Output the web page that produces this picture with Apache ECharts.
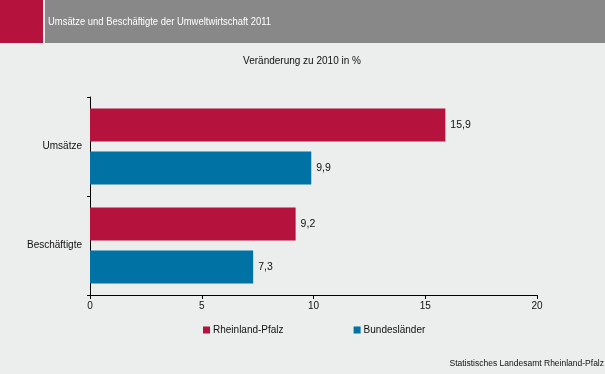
<!DOCTYPE html>
<html><head><meta charset="utf-8">
<script src="https://cdn.jsdelivr.net/npm/echarts@6/dist/echarts.min.js"></script>
<style>html,body{margin:0;padding:0;background:#ECEDED;}#c{width:605px;height:374px;}</style>
</head><body><div id="c"></div>
<script>
const categories = ['Umsätze', 'Beschäftigte'];
const seriesNames = ['Rheinland-Pfalz', 'Bundesländer'];
const rlpValues = [15.9, 9.2];
const bundValues = [9.9, 7.3];
const xTicks = [0, 5, 10, 15, 20];
const colors = ['#B5123E', '#0072A3'];

const chart = echarts.init(document.getElementById('c'), null, {renderer: 'canvas'});
const font = 'Liberation Sans, Arial, sans-serif';
const lbl = {show: true, position: 'right', distance: 5, color: '#111', fontSize: 10.5, fontFamily: font,
  formatter: p => String(p.value).replace('.', ',')};
chart.setOption({
  backgroundColor: '#ECEDED',
  animation: false,
  graphic: [
    {type: 'rect', shape: {x: 0, y: 0, width: 43, height: 43}, style: {fill: '#B5123E'}},
    {type: 'rect', shape: {x: 45, y: 0, width: 560, height: 43}, style: {fill: '#888888'}},
    {type: 'text', x: 48, y: 22, scaleX: 0.82, style: {text: 'Umsätze und Beschäftigte der Umweltwirtschaft 2011', fill: '#fff', fontSize: 11.5, fontFamily: font, verticalAlign: 'middle'}},
    {type: 'text', x: 302, y: 61, style: {text: 'Veränderung zu 2010 in %', fill: '#111', fontSize: 10, fontFamily: font, align: 'center', verticalAlign: 'middle'}},
    {type: 'text', x: 604, y: 364, style: {text: 'Statistisches Landesamt Rheinland-Pfalz', fill: '#111', fontSize: 8.5, fontFamily: font, align: 'right', verticalAlign: 'middle'}}
  ],
  grid: {left: 90, right: 68, top: 97, height: 198, containLabel: false},
  legend: {
    data: seriesNames, top: 320, left: 198, itemWidth: 7, itemHeight: 7, itemGap: 70, icon: 'rect',
    textStyle: {fontSize: 10, fontFamily: font, color: '#111', padding: [0, 0, 0, -2]}
  },
  xAxis: {
    type: 'value', min: 0, max: 20, interval: 5,
    axisLine: {show: true, lineStyle: {color: '#000', width: 1}},
    axisTick: {show: true, length: 4, inside: false, lineStyle: {color: '#000'}},
    axisLabel: {color: '#111', fontSize: 10, fontFamily: font, margin: 6, formatter: v => xTicks.includes(v) ? String(v) : ''},
    splitLine: {show: false}
  },
  yAxis: {
    type: 'category', data: categories, inverse: true,
    axisLine: {show: true, lineStyle: {color: '#000', width: 1}},
    axisTick: {show: true, length: 3, lineStyle: {color: '#000'}},
    axisLabel: {color: '#111', fontSize: 10, fontFamily: font, margin: 8}
  },
  series: [
    {name: seriesNames[0], type: 'bar', data: rlpValues, barWidth: 33, barGap: '30%', itemStyle: {color: colors[0]}, label: lbl},
    {name: seriesNames[1], type: 'bar', data: bundValues, barWidth: 33, barGap: '30%', itemStyle: {color: colors[1]}, label: lbl}
  ]
});
</script></body></html>
